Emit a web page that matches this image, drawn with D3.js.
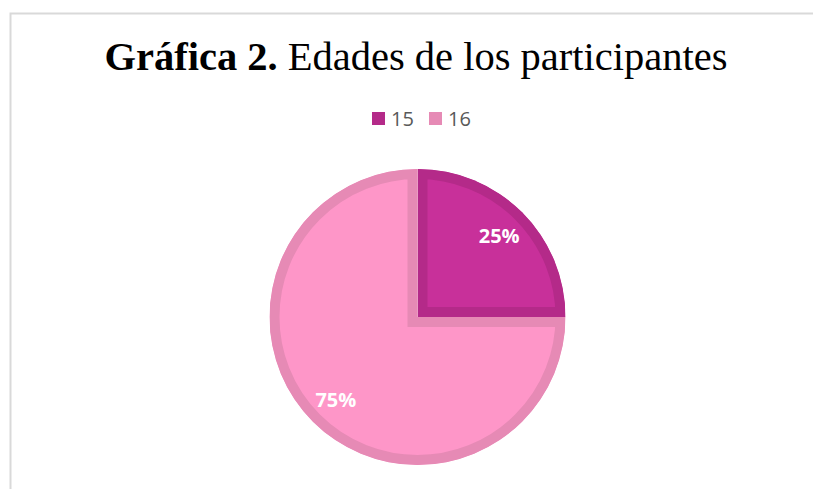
<!DOCTYPE html>
<html>
<head>
<meta charset="utf-8">
<script src="https://cdn.jsdelivr.net/npm/d3@7"></script>
<style>
  html, body { margin: 0; padding: 0; background: #ffffff; }
  svg { display: block; }
</style>
</head>
<body>
<svg id="chart" width="813" height="489"></svg>
<script>
// ---- data ----
const categories = ["15", "16"];
const values = [25, 75];
const labels = ["25%", "75%"];
const fillColors = ["#c8309a", "#fe96c8"];
const edgeColors = ["#b42a89", "#e68ab5"];
const titleBold = "Gráfica 2.";
const titleRest = " Edades de los participantes";

const W = 813, H = 489;
const svg = d3.select("#chart");

// chart frame (light grey border, top and left visible)
svg.append("path")
  .attr("d", `M10.5,${H} L10.5,13.5 L${W},13.5`)
  .attr("fill", "none")
  .attr("stroke", "#d9d9d9")
  .attr("stroke-width", 2);

// title
const title = svg.append("text")
  .attr("x", 416)
  .attr("y", 70)
  .attr("text-anchor", "middle")
  .attr("font-family", "'Liberation Serif', 'Times New Roman', serif")
  .attr("font-size", 40.5)
  .attr("fill", "#000");
title.append("tspan").attr("font-weight", "bold").text(titleBold);
title.append("tspan").text(titleRest);

// legend
const legend = svg.append("g").attr("transform", "translate(372,112)");
const legendX = d3.scaleOrdinal().domain(categories).range([0, 57]);
const li = legend.selectAll("g").data(categories).join("g")
  .attr("transform", d => `translate(${legendX(d)},0)`);
li.append("rect").attr("width", 13).attr("height", 13)
  .attr("fill", (d, i) => edgeColors[i]);
li.append("text").attr("x", 19).attr("y", 14)
  .attr("font-family", "'Open Sans', sans-serif")
  .attr("font-size", 20)
  .attr("fill", "#595959")
  .text(d => d);

// pie
const cx = 417.5, cy = 317, r = 148;
const pie = d3.pie().sort(null).value(d => d)(values);
const arc = d3.arc().innerRadius(0).outerRadius(r);
const labelArc = d3.arc().innerRadius(r * 0.78).outerRadius(r * 0.78);

const defs = svg.append("defs");
defs.selectAll("clipPath").data(pie).join("clipPath")
  .attr("id", (d, i) => "clip" + i)
  .append("path").attr("d", arc);

const g = svg.append("g").attr("transform", `translate(${cx},${cy})`);
g.selectAll("path.slice").data(pie).join("path")
  .attr("class", "slice")
  .attr("d", arc)
  .attr("fill", (d, i) => fillColors[i])
  .attr("stroke", (d, i) => edgeColors[i])
  .attr("stroke-width", 20)
  .attr("stroke-linejoin", "miter")
  .attr("clip-path", (d, i) => `url(#clip${i})`);

g.selectAll("text.lbl").data(pie).join("text")
  .attr("class", "lbl")
  .attr("transform", d => `translate(${labelArc.centroid(d)})`)
  .attr("text-anchor", "middle")
  .attr("dy", "0.4em")
  .attr("font-family", "'Open Sans', sans-serif")
  .attr("font-weight", "bold")
  .attr("font-size", 20)
  .attr("fill", "#ffffff")
  .text((d, i) => labels[i]);
</script>
</body>
</html>
